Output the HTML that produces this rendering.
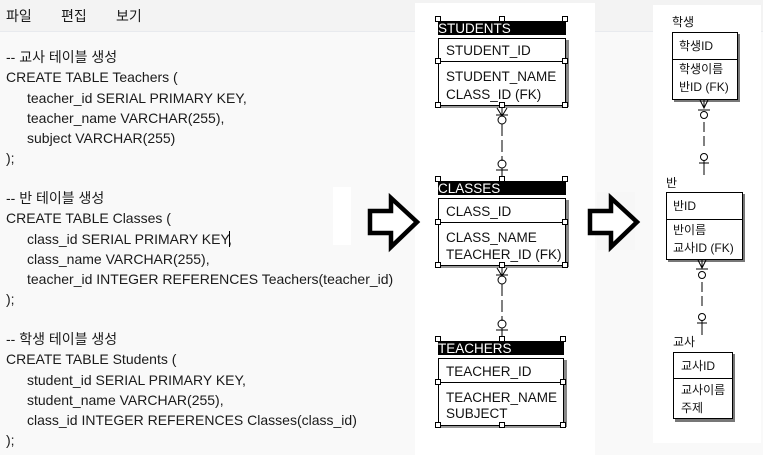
<!DOCTYPE html>
<html><head><meta charset="utf-8"><style>
html,body{margin:0;padding:0;background:#f9f9f9;width:763px;height:455px;overflow:hidden}
svg{display:block}
.code{font-family:"Liberation Sans","Noto Sans CJK KR",sans-serif;font-size:14px;fill:#1a1a1a}
.er{font-family:"Liberation Sans",sans-serif;font-size:13.5px;fill:#111}
.kr{font-family:"Liberation Sans","Noto Sans CJK KR",sans-serif;font-size:12px;fill:#111}
.hd{font-family:"Liberation Sans",sans-serif;font-size:13.5px;fill:#fff}
.h{fill:#fff;stroke:#000;stroke-width:1}
</style></head><body>
<svg width="763" height="455" viewBox="0 0 763 455" xmlns="http://www.w3.org/2000/svg">
<rect x="0" y="0" width="763" height="31" fill="#f3f3f3"/>
<rect x="0" y="31" width="763" height="1" fill="#e8eaee"/>
<text class="code" x="6" y="21">파일</text>
<text class="code" x="61" y="21">편집</text>
<text class="code" x="116" y="21">보기</text>

<g class="code">
<text x="6" y="62">-- 교사 테이블 생성</text>
<text x="6" y="82">CREATE TABLE Teachers (</text>
<text x="27" y="103">teacher_id SERIAL PRIMARY KEY,</text>
<text x="27" y="123">teacher_name VARCHAR(255),</text>
<text x="27" y="143">subject VARCHAR(255)</text>
<text x="6" y="163">);</text>
<text x="6" y="203">-- 반 테이블 생성</text>
<text x="6" y="223">CREATE TABLE Classes (</text>
<text x="27" y="244">class_id SERIAL PRIMARY KEY,</text>
<text x="27" y="264">class_name VARCHAR(255),</text>
<text x="27" y="284">teacher_id INTEGER REFERENCES Teachers(teacher_id)</text>
<text x="6" y="304">);</text>
<text x="6" y="344">-- 학생 테이블 생성</text>
<text x="6" y="364">CREATE TABLE Students (</text>
<text x="27" y="385">student_id SERIAL PRIMARY KEY,</text>
<text x="27" y="405">student_name VARCHAR(255),</text>
<text x="27" y="425">class_id INTEGER REFERENCES Classes(class_id)</text>
<text x="6" y="445">);</text>
</g>
<rect x="229" y="231" width="1" height="16" fill="#000"/>

<!-- middle panel -->
<rect x="415" y="3" width="180" height="452" fill="#fff"/>
<rect x="333" y="187" width="18" height="58" fill="#fff"/>
<path d="M370 211 H391 V198 L417 222 L391 247 V233 H370 Z" fill="#fff" stroke="#000" stroke-width="4.5" stroke-linejoin="miter"/>

<!-- STUDENTS -->
<rect x="438" y="21" width="128" height="14" fill="#000"/>
<text class="hd" x="438" y="33">STUDENTS</text>
<rect x="566" y="40" width="3" height="67" fill="#888"/>
<rect x="440" y="105" width="128" height="3" fill="#999"/>
<rect x="438.5" y="38.5" width="127" height="67" fill="#fff" stroke="#000"/>
<line x1="438" y1="61.5" x2="566" y2="61.5" stroke="#000"/>
<text class="er" x="446" y="55">STUDENT_ID</text>
<text class="er" x="446" y="81">STUDENT_NAME</text>
<text class="er" x="446" y="99">CLASS_ID (FK)</text>
<g class="h"><rect x="435.5" y="16.5" width="5" height="5"/><rect x="499.5" y="16.5" width="5" height="5"/><rect x="562.5" y="16.5" width="5" height="5"/><rect x="435.5" y="58.5" width="5" height="5"/><rect x="562.5" y="58.5" width="5" height="5"/><rect x="435.5" y="102.5" width="5" height="5"/><rect x="499.5" y="102.5" width="5" height="5"/><rect x="562.5" y="102.5" width="5" height="5"/></g>
<g stroke="#000" fill="none" stroke-width="1">
<path d="M497 108 L502 116 L507 108 M502 108 V116 M496 115 H508"/>
<circle cx="502" cy="120" r="4"/>
<path d="M502 124 V161" stroke-dasharray="12 4"/>
<circle cx="502" cy="164" r="4"/>
<path d="M496 170 H508 M502 168 V179"/>
</g>

<!-- CLASSES -->
<rect x="438" y="181" width="128" height="14" fill="#000"/>
<text class="hd" x="438" y="193">CLASSES</text>
<rect x="566" y="200" width="3" height="67" fill="#888"/>
<rect x="440" y="265" width="128" height="3" fill="#999"/>
<rect x="438.5" y="198.5" width="127" height="67" fill="#fff" stroke="#000"/>
<line x1="438" y1="222.5" x2="566" y2="222.5" stroke="#000"/>
<text class="er" x="446" y="216">CLASS_ID</text>
<text class="er" x="446" y="242">CLASS_NAME</text>
<text class="er" x="446" y="259">TEACHER_ID (FK)</text>
<g class="h"><rect x="435.5" y="176.5" width="5" height="5"/><rect x="499.5" y="176.5" width="5" height="5"/><rect x="562.5" y="176.5" width="5" height="5"/><rect x="435.5" y="219.5" width="5" height="5"/><rect x="562.5" y="219.5" width="5" height="5"/><rect x="435.5" y="262.5" width="5" height="5"/><rect x="499.5" y="262.5" width="5" height="5"/><rect x="562.5" y="262.5" width="5" height="5"/></g>
<g stroke="#000" fill="none" stroke-width="1">
<path d="M497 268 L502 276 L507 268 M502 268 V276 M496 275 H508"/>
<circle cx="502" cy="280" r="4"/>
<path d="M502 284 V321" stroke-dasharray="12 4"/>
<circle cx="502" cy="324" r="4"/>
<path d="M496 330 H508 M502 328 V339"/>
</g>

<!-- TEACHERS -->
<rect x="438" y="341" width="126" height="14" fill="#000"/>
<text class="hd" x="438" y="353">TEACHERS</text>
<rect x="564" y="360" width="3" height="67" fill="#888"/>
<rect x="440" y="425" width="126" height="3" fill="#999"/>
<rect x="438.5" y="358.5" width="125" height="67" fill="#fff" stroke="#000"/>
<line x1="438" y1="382.5" x2="564" y2="382.5" stroke="#000"/>
<text class="er" x="446" y="376">TEACHER_ID</text>
<text class="er" x="446" y="402">TEACHER_NAME</text>
<text class="er" x="446" y="418">SUBJECT</text>
<g class="h"><rect x="435.5" y="336.5" width="5" height="5"/><rect x="499.5" y="336.5" width="5" height="5"/><rect x="560.5" y="336.5" width="5" height="5"/><rect x="435.5" y="379.5" width="5" height="5"/><rect x="560.5" y="379.5" width="5" height="5"/><rect x="435.5" y="422.5" width="5" height="5"/><rect x="499.5" y="422.5" width="5" height="5"/><rect x="560.5" y="422.5" width="5" height="5"/></g>

<!-- second arrow -->
<rect x="597" y="192" width="38" height="58" fill="#f7f7f7"/>
<path d="M590 211 H611 V198 L637 222 L611 247 V233 H590 Z" fill="#fff" stroke="#000" stroke-width="4.5"/>

<!-- right panel -->
<rect x="653" y="5" width="108" height="438" fill="#fff"/>
<text class="kr" x="672" y="26" font-size="11">학생</text>
<rect x="674" y="34" width="66" height="68" fill="#777"/>
<rect x="672.5" y="32.5" width="65" height="67" fill="#fff" stroke="#000"/>
<line x1="672" y1="59.5" x2="738" y2="59.5" stroke="#000"/>
<text class="kr" x="679" y="50">학생ID</text>
<text class="kr" x="679" y="73">학생이름</text>
<text class="kr" x="679" y="91">반ID (FK)</text>
<g stroke="#000" fill="none">
<path d="M700 100 L704 108 L708 100 M704 100 V108 M698 110 H710"/>
<circle cx="704" cy="115" r="3.5"/>
<path d="M704 122 V148" stroke-dasharray="10 4"/>
<circle cx="704" cy="157" r="3.5"/>
<path d="M699 163 H709 M704 160 V175"/>
</g>
<text class="kr" x="666" y="187" font-size="11">반</text>
<rect x="668" y="194" width="77" height="68" fill="#777"/>
<rect x="666.5" y="192.5" width="76" height="67" fill="#fff" stroke="#000"/>
<line x1="666" y1="219.5" x2="743" y2="219.5" stroke="#000"/>
<text class="kr" x="673" y="210">반ID</text>
<text class="kr" x="673" y="234">반이름</text>
<text class="kr" x="673" y="252">교사ID (FK)</text>
<g stroke="#000" fill="none">
<path d="M698 260 L702 268 L706 260 M702 260 V268 M696 269 H708"/>
<circle cx="702" cy="275" r="3.5"/>
<path d="M702 282 V308" stroke-dasharray="10 4"/>
<circle cx="702" cy="317" r="3.5"/>
<path d="M697 323 H707 M702 320 V335"/>
</g>
<text class="kr" x="673" y="346" font-size="11">교사</text>
<rect x="675" y="354" width="60" height="68" fill="#777"/>
<rect x="673.5" y="352.5" width="59" height="66" fill="#fff" stroke="#000"/>
<line x1="673" y1="378.5" x2="733" y2="378.5" stroke="#000"/>
<text class="kr" x="681" y="370">교사ID</text>
<text class="kr" x="681" y="394">교사이름</text>
<text class="kr" x="681" y="412">주제</text>
</svg>
</body></html>
